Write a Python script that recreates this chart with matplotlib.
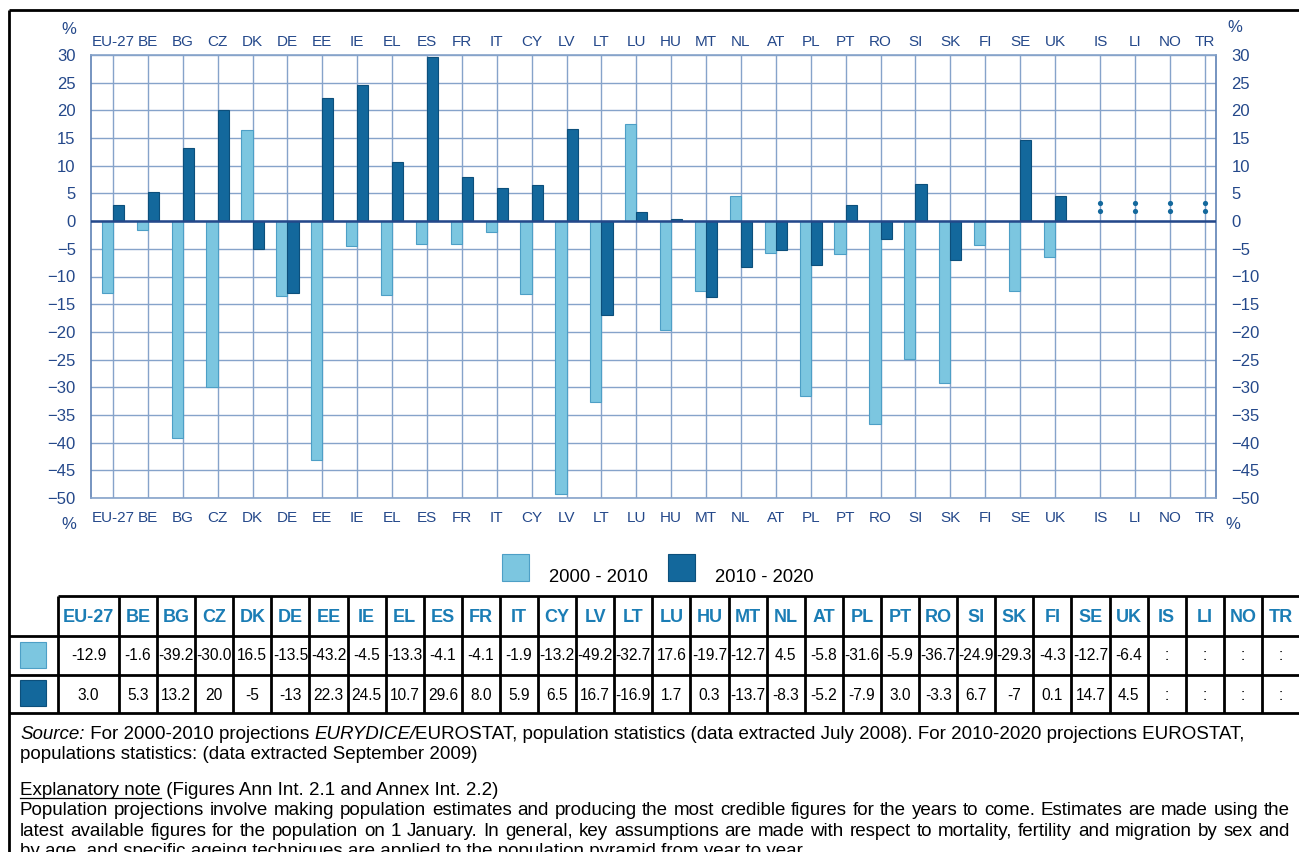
"""
Population change of the 0-9 age group, 2000-2010 and 2010-2020 (EU-27 and countries).
Bar chart with data table and source note underneath.
"""
import numpy as np
import matplotlib
matplotlib.use("Agg")
import matplotlib.pyplot as plt
from matplotlib.patches import Rectangle

countries = ["EU-27", "BE", "BG", "CZ", "DK", "DE", "EE", "IE", "EL", "ES", "FR", "IT",
             "CY", "LV", "LT", "LU", "HU", "MT", "NL", "AT", "PL", "PT", "RO", "SI",
             "SK", "FI", "SE", "UK", "IS", "LI", "NO", "TR"]
# values as printed in the table (":" = not available)
p2000_txt = ["-12.9", "-1.6", "-39.2", "-30.0", "16.5", "-13.5", "-43.2", "-4.5", "-13.3",
             "-4.1", "-4.1", "-1.9", "-13.2", "-49.2", "-32.7", "17.6", "-19.7", "-12.7",
             "4.5", "-5.8", "-31.6", "-5.9", "-36.7", "-24.9", "-29.3", "-4.3", "-12.7",
             "-6.4", ":", ":", ":", ":"]
p2010_txt = ["3.0", "5.3", "13.2", "20", "-5", "-13", "22.3", "24.5", "10.7", "29.6", "8.0",
             "5.9", "6.5", "16.7", "-16.9", "1.7", "0.3", "-13.7", "-8.3", "-5.2", "-7.9",
             "3.0", "-3.3", "6.7", "-7", "0.1", "14.7", "4.5", ":", ":", ":", ":"]
series_labels = ["2000 - 2010", "2010 - 2020"]
yticks = list(range(-50, 31, 5))


def to_num(vals):
    return np.array([np.nan if v == ":" else float(v) for v in vals])


p2000 = to_num(p2000_txt)
p2010 = to_num(p2010_txt)

LIGHT, LIGHT_EDGE = "#7cc6e0", "#4d9fc6"
DARK, DARK_EDGE = "#13689c", "#0c4f7b"
AXC = "#24488a"
GRID = "#86a3ca"
HEAD = "#1b7db5"
SANS = ["Liberation Sans", "DejaVu Sans"]
plt.rcParams["font.family"] = SANS

W, H = 1299, 852
fig = plt.figure(figsize=(W / 100, H / 100), dpi=100)

# ---- bar chart ----
ax = fig.add_axes([91 / W, 1 - 498 / H, 1125 / W, 443 / H])
n = len(countries)
pos = np.arange(n) + np.where(np.arange(n) >= 28, 0.3, 0.0)
bw = 0.32
ax.bar(pos - bw, p2000, bw, align="edge", color=LIGHT, edgecolor=LIGHT_EDGE, lw=0.8, zorder=3)
ax.bar(pos, p2010, bw, align="edge", color=DARK, edgecolor=DARK_EDGE, lw=0.8, zorder=3)

# ":" marks (not available) drawn as two dots
missing = np.isnan(p2000) & np.isnan(p2010)
for dy in (1.9, 3.2):
    ax.scatter(pos[missing], np.full(missing.sum(), dy), s=14, color=DARK, zorder=4, lw=0)

ax.set_xlim(-0.63, pos[-1] + 0.315)
ax.set_ylim(-50, 30)
ax.set_xticks(pos, countries)
ax.set_yticks(yticks)
ax.tick_params(length=0, labelcolor=AXC, labelsize=11, right=False, labelright=True)
ax.tick_params(axis="x", pad=9)
ax.tick_params(axis="y", pad=11, labelsize=12)
top = ax.secondary_xaxis("top")
top.set_xticks(pos, countries)
top.tick_params(length=0, labelcolor=AXC, labelsize=11, pad=4)
top.spines["top"].set_visible(False)

ax.grid(True, color=GRID, lw=1.0, zorder=0)
ax.axhline(0, color=AXC, lw=1.8, zorder=5)
for side in ["left", "right", "bottom", "top"]:
    ax.spines[side].set_color(GRID)
    ax.spines[side].set_linewidth(1.2)
ax.spines["left"].set_color("#5f82b5")
ax.spines["right"].set_color("#5f82b5")
for xa, ya in [(-0.02, 1.058), (1.017, 1.062), (-0.02, -0.06), (1.015, -0.06)]:
    ax.text(xa, ya, "%", transform=ax.transAxes, ha="center", va="center",
            color=AXC, fontsize=12)

# ---- overlay in pixel coordinates ----
ov = fig.add_axes([0, 0, 1, 1], zorder=10)
ov.set_xlim(0, W)
ov.set_ylim(H, 0)
ov.axis("off")
ov.patch.set_alpha(0)

frame_kw = dict(color="black", lw=2.0, solid_capstyle="butt")
ov.plot([9, W], [10, 10], **frame_kw)
ov.plot([9, 9], [10, H], **frame_kw)

# legend
for i, (lab, fc, ec) in enumerate(zip(series_labels, [LIGHT, DARK], [LIGHT_EDGE, DARK_EDGE])):
    x0 = 502 + i * 166
    ov.add_patch(Rectangle((x0, 554), 27, 27, facecolor=fc, edgecolor=ec, lw=0.8))
    ov.text(x0 + 47, 577, lab, fontsize=13.3, va="center", ha="left")

# data table
col0, col1 = 58, 119
cw = 38.1
rows_y = [596, 636, 675, 713]
edges = [col0, col1] + [col1 + cw * (k + 1) for k in range(n - 1)]
ov.plot([col0, W], [rows_y[0]] * 2, **frame_kw)
for yy in rows_y[1:]:
    ov.plot([9, W], [yy, yy], **frame_kw)
for xx in edges:
    ov.plot([xx, xx], [rows_y[0], rows_y[-1]], **frame_kw)
centers = [(edges[k] + (edges[k + 1] if k + 1 < len(edges) else edges[k] + cw)) / 2
           for k in range(n)]
for k, c in enumerate(countries):
    cx = centers[k]
    ov.text(cx, 617, c, ha="center", va="center", fontsize=13, fontweight="bold",
            color=HEAD)
    ov.text(cx, 656, p2000_txt[k], ha="center", va="center", fontsize=11.2)
    ov.text(cx, 695, p2010_txt[k], ha="center", va="center", fontsize=11.2)
ov.add_patch(Rectangle((20, 642), 26, 26, facecolor=LIGHT, edgecolor=LIGHT_EDGE, lw=0.8))
ov.add_patch(Rectangle((20, 680), 26, 26, facecolor=DARK, edgecolor=DARK_EDGE, lw=0.8))

# ---- notes ----
renderer = fig.canvas.get_renderer()
FS = 13.5


def width(s, italic=False):
    t = ov.text(0, 0, s + "|", fontsize=FS, style="italic" if italic else "normal")
    t2 = ov.text(0, 0, "|", fontsize=FS)
    w = t.get_window_extent(renderer).width - t2.get_window_extent(renderer).width
    t.remove()
    t2.remove()
    return w


def runs(x, y, parts):
    for s, it in parts:
        ov.text(x, y, s, fontsize=FS, style="italic" if it else "normal",
                va="baseline", ha="left")
        x += width(s, it)
    return x


def justified(x0, x1, y, line):
    words = line.split()
    ws = [width(w) for w in words]
    gap = (x1 - x0 - sum(ws)) / (len(words) - 1)
    x = x0
    for w, wd in zip(words, ws):
        ov.text(x, y, w, fontsize=FS, va="baseline", ha="left")
        x += wd + gap


runs(20, 739, [("Source:", True), (" For 2000-2010 projections ", False), ("EURYDICE/", True),
               ("EUROSTAT, population statistics (data extracted July 2008). For 2010-2020 "
                "projections EUROSTAT,", False)])
runs(20, 759, [("populations statistics: (data extracted September 2009)", False)])
xe = width("Explanatory note")
runs(20, 795, [("Explanatory note", False), (" (Figures Ann Int. 2.1 and Annex Int. 2.2)", False)])
ov.plot([20, 20 + xe], [797.5, 797.5], color="black", lw=0.9)
justified(20, 1290, 815, "Population projections involve making population estimates and producing "
                         "the most credible figures for the years to come. Estimates are made using the")
justified(20, 1290, 836, "latest available figures for the population on 1 January. In general, key "
                         "assumptions are made with respect to mortality, fertility and migration by sex and")
runs(20, 856, [("by age, and specific ageing techniques are applied to the population pyramid "
                "from year to year.", False)])

fig.savefig("out.png", dpi=100)
